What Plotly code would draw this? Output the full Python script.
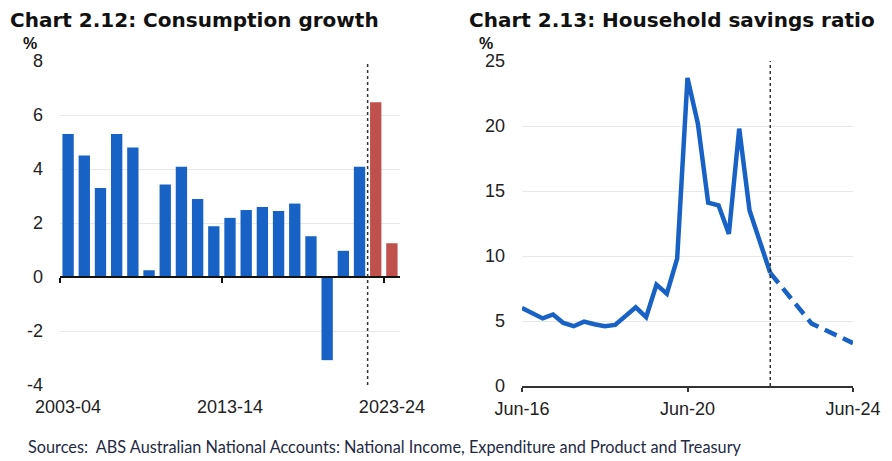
import plotly.graph_objects as go

# page is shown with the browser's default 8px body margin
OFF = 8
W, H = 892 - OFF, 461 - OFF

# ---------------- data ----------------
fy_labels = ["2003-04", "2004-05", "2005-06", "2006-07", "2007-08", "2008-09", "2009-10",
             "2010-11", "2011-12", "2012-13", "2013-14", "2014-15", "2015-16", "2016-17",
             "2017-18", "2018-19", "2019-20", "2020-21", "2021-22", "2022-23", "2023-24"]
consumption_growth = [5.3, 4.5, 3.3, 5.3, 4.8, 0.25, 3.43, 4.08, 2.89, 1.88, 2.19, 2.48,
                      2.59, 2.44, 2.72, 1.51, -3.08, 0.97, 4.08, 6.47, 1.25]
forecast_from_fy = "2022-23"
fy_tick_labels = ["2003-04", "2013-14", "2023-24"]
growth_ticks = [-4, -2, 0, 2, 4, 6, 8]

quarters = []
for yr in range(16, 25):
    for m in ["Mar", "Jun", "Sep", "Dec"]:
        quarters.append(f"{m}-{yr}")
quarters = quarters[quarters.index("Jun-16"):quarters.index("Jun-24") + 1]

savings_actual_q = quarters[:quarters.index("Jun-22") + 1]
savings_actual = [6.0, 5.6, 5.2, 5.5, 4.85, 4.6, 4.95, 4.75, 4.6, 4.7, 5.35, 6.05, 5.3,
                  7.8, 7.1, 9.8, 23.7, 20.2, 14.1, 13.9, 11.7, 19.8, 13.5, 11.1, 8.7]
savings_fcst_q = ["Jun-22", "Jun-23", "Jun-24"]
savings_fcst = [8.7, 4.8, 3.3]
q_tick_labels = ["Jun-16", "Jun-20", "Jun-24"]
savings_ticks = [0, 5, 10, 15, 20, 25]

# ---------------- style ----------------
BLUE = "#1862c6"
RED = "#c0504d"
GRID = "#e8e8e8"
TXT = "#222222"
TICKFONT = dict(family="Liberation Sans, Arial", size=18, color=TXT)

def px_x(p):
    return (p - OFF) / W

def px_y(p):
    return 1 - (p - OFF) / H

L_dom = [px_x(60), px_x(400)]
R_dom = [px_x(522), px_x(853)]
L_ydom = [px_y(385), px_y(61)]
R_ydom = [px_y(386), px_y(61)]
L_yr = [-4, 8]
R_yr = [0, 25]

fi = fy_labels.index(forecast_from_fy)
bar_colors = [BLUE if i < fi else RED for i in range(len(fy_labels))]

fig = go.Figure()
fig.add_trace(go.Bar(x=fy_labels, y=consumption_growth, marker=dict(color=bar_colors, line_width=0),
                     xaxis="x", yaxis="y", showlegend=False))
fig.add_trace(go.Scatter(x=savings_actual_q, y=savings_actual, mode="lines",
                         line=dict(color=BLUE, width=4.5), xaxis="x2", yaxis="y2", showlegend=False))
fig.add_trace(go.Scatter(x=savings_fcst_q, y=savings_fcst, mode="lines",
                         line=dict(color=BLUE, width=4.5, dash="13px,7px"), xaxis="x2", yaxis="y2",
                         showlegend=False))

n = len(fy_labels)
zero_pos = L_ydom[0] + (0 - L_yr[0]) / (L_yr[1] - L_yr[0]) * (L_ydom[1] - L_ydom[0])
bnd_ticks = [fy_labels.index(t) - 0.5 for t in fy_tick_labels]
q_ticks = [quarters.index(t) for t in q_tick_labels]

common_ax = dict(showgrid=False, zeroline=False, fixedrange=True, automargin=False)

fig.update_layout(
    width=W, height=H, margin=dict(l=0, r=0, t=0, b=0, autoexpand=False),
    paper_bgcolor="white", plot_bgcolor="white", bargap=0.3,
    xaxis=dict(type="category", domain=L_dom, anchor="y", range=[-0.5, n - 0.5],
               tickmode="array", tickvals=fy_tick_labels, ticktext=fy_tick_labels,
               ticks="", showline=False, tickfont=TICKFONT, ticklabelstandoff=9, **common_ax),
    xaxis3=dict(overlaying="x", anchor="free", position=zero_pos, range=[-0.5, n - 0.5],
                tickmode="array", tickvals=bnd_ticks, showticklabels=False, ticks="outside",
                ticklen=5, tickwidth=1.5, tickcolor="#111", showline=True, linecolor="#111",
                linewidth=1.5, **common_ax),
    xaxis4=dict(overlaying="x", anchor="free", position=zero_pos, range=[-0.5, n - 0.5],
                tickmode="array", tickvals=bnd_ticks, showticklabels=False, ticks="inside",
                ticklen=4, tickwidth=1.5, tickcolor="#111", showline=False, **common_ax),
    yaxis=dict(domain=L_ydom, anchor="x", range=L_yr, tickmode="array", tickvals=growth_ticks,
               ticktext=[str(v) for v in growth_ticks],
               showgrid=True, gridcolor=GRID, gridwidth=1, zeroline=False, showline=False,
               ticks="", tickfont=TICKFONT, ticklabelstandoff=16, fixedrange=True, automargin=False),
    xaxis2=dict(type="category", categoryorder="array", categoryarray=quarters, domain=R_dom,
                anchor="y2", range=[0, len(quarters) - 1], tickmode="array", tickvals=q_tick_labels,
                ticktext=q_tick_labels, ticks="outside", ticklen=4, tickwidth=1.5, tickcolor="#333",
                showline=True, linecolor="#333", linewidth=1.5, tickfont=TICKFONT,
                ticklabelstandoff=2, **common_ax),
    xaxis5=dict(overlaying="x2", anchor="y2", range=[0, len(quarters) - 1], tickmode="array",
                tickvals=q_ticks, showticklabels=False, ticks="inside", ticklen=4, tickwidth=1.5,
                tickcolor="#333", showline=False, **common_ax),
    yaxis2=dict(domain=R_ydom, anchor="x2", range=R_yr, tickmode="array", tickvals=savings_ticks,
                ticktext=[str(v) for v in savings_ticks],
                showgrid=True, gridcolor=GRID, gridwidth=1, zeroline=False, showline=False,
                ticks="", tickfont=TICKFONT, ticklabelstandoff=16, fixedrange=True, automargin=False),
)

# dotted forecast dividers
fig.add_shape(type="line", xref="x3", yref="y", x0=fi - 0.5, x1=fi - 0.5, y0=L_yr[0], y1=L_yr[1],
              line=dict(color="#333", width=1.5, dash="dot"), layer="above")
fig.add_shape(type="line", xref="x2", yref="y2", x0=savings_fcst_q[0], x1=savings_fcst_q[0],
              y0=R_yr[0], y1=R_yr[1], line=dict(color="#333", width=1.5, dash="dot"), layer="above")

TITLE = dict(family="DejaVu Sans", size=20, color="#111", weight="bold")
PCT = dict(family="Liberation Sans", size=16, color="#111", weight="bold")
ann = [
    dict(text="Chart 2.12: Consumption growth", x=px_x(9), y=px_y(19.5), font=TITLE),
    dict(text="Chart 2.13: Household savings ratio", x=px_x(468), y=px_y(19.5), font=TITLE),
    dict(text="%", x=px_x(22), y=px_y(44), font=PCT),
    dict(text="%", x=px_x(478), y=px_y(44), font=PCT),
    dict(text="Sources:  ABS Australian National Accounts: National Income, Expenditure and Product and Treasury",
         x=px_x(27), y=px_y(446), font=dict(family="Lato", size=16.3, color="#1f2a44")),
]
for a in ann:
    fig.add_annotation(xref="paper", yref="paper", xanchor="left", yanchor="middle",
                       showarrow=False, borderpad=0, **a)

fig.write_html("out.html")
